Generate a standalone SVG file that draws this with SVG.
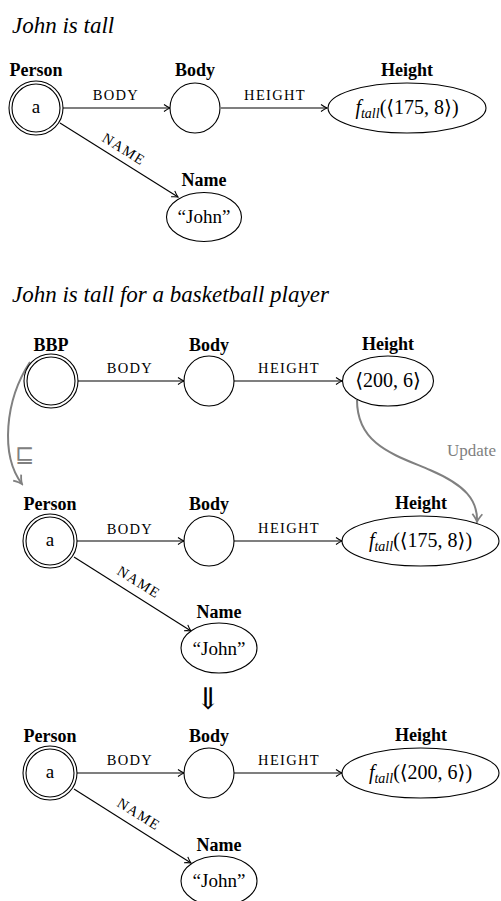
<svg xmlns="http://www.w3.org/2000/svg" width="501" height="901" viewBox="0 0 501 901">
<style>
text{font-family:"Liberation Serif","DejaVu Serif",serif;fill:#000}
.title{font-size:23px;font-style:italic}
.lbl{font-size:18px;font-weight:bold;text-anchor:middle}
.val{font-size:19px;text-anchor:middle}
.math{font-size:20px;text-anchor:middle}
.sub{font-size:14px;font-style:italic}
.it{font-style:italic}
.el{font-size:14.5px;letter-spacing:1.3px;text-anchor:middle}
.g{fill:#808080}
.sym{font-family:"DejaVu Sans",sans-serif;text-anchor:middle}
.thin{font-family:"DejaVu Sans ExtraLight","DejaVu Sans Light","DejaVu Serif",serif;text-anchor:middle}
.node{fill:#fff;stroke:#000;stroke-width:1.1}
.edge{fill:none;stroke:#000;stroke-width:1.1;marker-end:url(#ah)}
.gedge{fill:none;stroke:#808080;stroke-width:2;marker-end:url(#gah)}
</style>
<defs>
<marker id="ah" viewBox="-8 -5 10 10" refX="0" refY="0" markerWidth="10" markerHeight="10" markerUnits="userSpaceOnUse" orient="auto">
<path d="M-6,-3.5 Q-2.5,-1 0,0 Q-2.5,1 -6,3.5" fill="none" stroke="#000" stroke-width="1.1"/>
</marker>
<marker id="gah" viewBox="-10 -6 12 12" refX="0" refY="0" markerWidth="12" markerHeight="12" markerUnits="userSpaceOnUse" orient="auto">
<path d="M-8,-5 Q-3,-1 0,0 Q-3,1 -8,5" fill="none" stroke="#808080" stroke-width="1.8"/>
</marker>
</defs>

<text class="title" x="12" y="33">John is tall</text>
<text class="title" x="12" y="302">John is tall for a basketball player</text>

<g id="connectors">
<path class="edge" d="M63,108 H170"/>
<path class="edge" d="M221,108 H327"/>
<path class="edge" d="M60,123 L178,197"/>
<path class="edge" d="M78,381 H184"/>
<path class="edge" d="M234,381 H342"/>
<path class="edge" d="M77,541 H184"/>
<path class="edge" d="M234,541 H342"/>
<path class="edge" d="M74,557 L191,631"/>
<path class="edge" d="M77,773 H184"/>
<path class="edge" d="M234,773 H342"/>
<path class="edge" d="M74,789 L191,863"/>
<path class="gedge" d="M30,362 C5,400 0,455 22,484"/>
<path class="gedge" d="M357,400 C357,445 395,455 430,470 C465,485 478,500 477,522"/>
<text class="el" x="116" y="100">BODY</text>
<text class="el" x="275" y="100">HEIGHT</text>
<text class="el" transform="translate(124,149) rotate(32)" dominant-baseline="central">NAME</text>
<text class="el" x="130" y="373">BODY</text>
<text class="el" x="289" y="373">HEIGHT</text>
<text class="el" x="130" y="534">BODY</text>
<text class="el" x="289" y="533">HEIGHT</text>
<text class="el" transform="translate(139,582) rotate(32)" dominant-baseline="central">NAME</text>
<text class="el" x="130" y="765">BODY</text>
<text class="el" x="289" y="765">HEIGHT</text>
<text class="el" transform="translate(139,814) rotate(32)" dominant-baseline="central">NAME</text>
<text class="g sym" x="25" y="462" font-size="23">⊑</text>
<text class="g" x="447" y="456" font-size="17">Update</text>
</g>

<g id="r1-person">
<text class="lbl" x="36" y="76">Person</text>
<circle class="node" cx="36" cy="108" r="27"/>
<circle class="node" cx="36" cy="108" r="24"/>
<text class="val" x="36" y="113">a</text>
</g>
<g id="r1-body">
<text class="lbl" x="195" y="76">Body</text>
<circle class="node" cx="195" cy="108" r="25"/>
</g>
<g id="r1-height">
<text class="lbl" x="407" y="76">Height</text>
<ellipse class="node" cx="407" cy="108" rx="79" ry="25"/>
<text class="math" x="407" y="114"><tspan class="it">f</tspan><tspan class="sub" dy="4">tall</tspan><tspan dy="-4">(⟨175, 8⟩)</tspan></text>
</g>
<g id="r1-name">
<text class="lbl" x="204" y="186">Name</text>
<ellipse class="node" cx="204" cy="217" rx="37.5" ry="24.5"/>
<text class="val" x="204" y="223">“John”</text>
</g>

<g id="r2-bbp">
<text class="lbl" x="51" y="351">BBP</text>
<circle class="node" cx="51" cy="381" r="27"/>
<circle class="node" cx="51" cy="381" r="24"/>
</g>
<g id="r2-body">
<text class="lbl" x="209" y="351">Body</text>
<circle class="node" cx="209" cy="381" r="25"/>
</g>
<g id="r2-height">
<text class="lbl" x="388" y="350">Height</text>
<ellipse class="node" cx="388" cy="381" rx="45.5" ry="25"/>
<text class="math" x="388" y="387">⟨200, 6⟩</text>
</g>

<g id="r3-person">
<text class="lbl" x="50" y="510">Person</text>
<circle class="node" cx="50" cy="541" r="27"/>
<circle class="node" cx="50" cy="541" r="24"/>
<text class="val" x="50" y="546">a</text>
</g>
<g id="r3-body">
<text class="lbl" x="209" y="510">Body</text>
<circle class="node" cx="209" cy="541" r="25"/>
</g>
<g id="r3-height">
<text class="lbl" x="421" y="509">Height</text>
<ellipse class="node" cx="420.5" cy="541" rx="78.5" ry="25"/>
<text class="math" x="420.5" y="547"><tspan class="it">f</tspan><tspan class="sub" dy="4">tall</tspan><tspan dy="-4">(⟨175, 8⟩)</tspan></text>
</g>
<g id="r3-name">
<text class="lbl" x="219" y="618">Name</text>
<ellipse class="node" cx="219" cy="648" rx="38" ry="25"/>
<text class="val" x="219" y="655">“John”</text>
</g>

<g id="implies">
<text class="thin" x="208" y="709" font-size="30">⇓</text>
</g>

<g id="r4-person">
<text class="lbl" x="50" y="742">Person</text>
<circle class="node" cx="50" cy="773" r="27"/>
<circle class="node" cx="50" cy="773" r="24"/>
<text class="val" x="50" y="778">a</text>
</g>
<g id="r4-body">
<text class="lbl" x="209" y="742">Body</text>
<circle class="node" cx="209" cy="773" r="25"/>
</g>
<g id="r4-height">
<text class="lbl" x="421" y="741">Height</text>
<ellipse class="node" cx="420.5" cy="773" rx="78.5" ry="25"/>
<text class="math" x="420.5" y="779"><tspan class="it">f</tspan><tspan class="sub" dy="4">tall</tspan><tspan dy="-4">(⟨200, 6⟩)</tspan></text>
</g>
<g id="r4-name">
<text class="lbl" x="219" y="851">Name</text>
<ellipse class="node" cx="219" cy="881" rx="38" ry="25"/>
<text class="val" x="219" y="887">“John”</text>
</g>
</svg>
